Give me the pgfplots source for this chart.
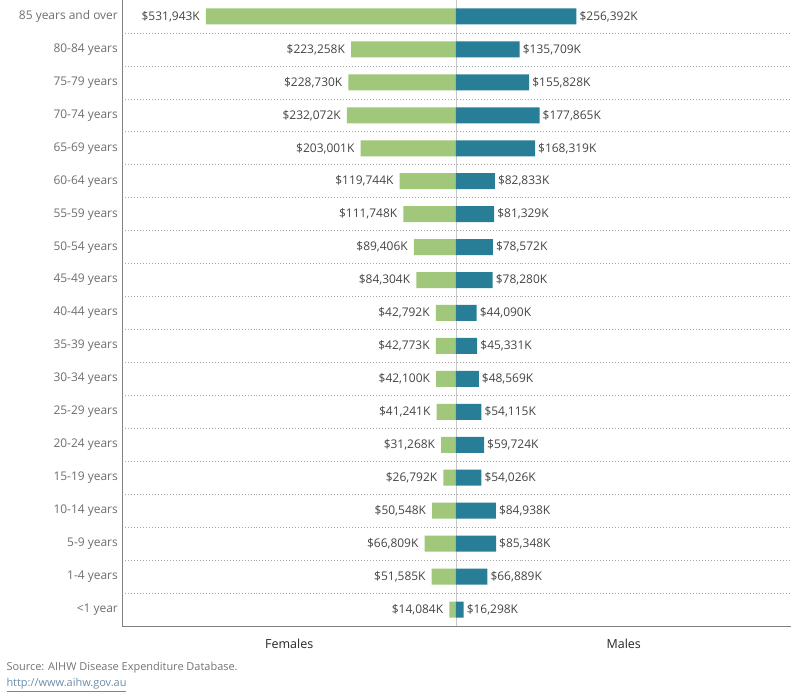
\documentclass[border=0pt]{standalone}
\usepackage{fontspec}
\setmainfont{Open Sans}
\usepackage{pgfplots}
\usepackage{pgfplotstable}
\pgfplotsset{compat=1.18}

\definecolor{femcol}{HTML}{A0C77A}
\definecolor{malecol}{HTML}{297E97}
\definecolor{labgray}{HTML}{6E6E6E}
\definecolor{valgray}{HTML}{444444}
\definecolor{linkcol}{HTML}{6A8CA8}

% Health expenditure by age group and sex ($ thousands); y = 0 is <1 year
\pgfplotstableread{
y  fem     male
0  14084   16298
1  51585   66889
2  66809   85348
3  50548   84938
4  26792   54026
5  31268   59724
6  41241   54115
7  42100   48569
8  42773   45331
9  42792   44090
10 84304   78280
11 89406   78572
12 111748  81329
13 119744  82833
14 203001  168319
15 232072  177865
16 228730  155828
17 223258  135709
18 531943  256392
}\expdata

\begin{document}
\begin{tikzpicture}
\useasboundingbox (-122bp,-74bp) rectangle (678bp,626bp);
\begin{axis}[
  at={(0,0)}, anchor=south west,
  scale only axis,
  width=669bp, height=626bp,
  xmin=-710600, xmax=713000,
  ymin=-0.5, ymax=18.5,
  scaled x ticks=false,
  xbar, bar width=16bp, bar shift=0pt,
  axis x line*=bottom, axis y line*=left,
  axis line style={draw=black!50, line width=0.8pt},
  x axis line style={-}, y axis line style={-},
  xtick={0}, xticklabels={},
  xmajorgrids, major grid style={draw=black!22, line width=0.7pt},
  ytick={0,...,18},
  yticklabels={<1 year,1-4 years,5-9 years,10-14 years,15-19 years,20-24 years,25-29 years,30-34 years,35-39 years,40-44 years,45-49 years,50-54 years,55-59 years,60-64 years,65-69 years,70-74 years,75-79 years,80-84 years,85 years and over},
  yticklabel style={font=\fontsize{12}{14}\selectfont, text=labgray, inner xsep=4pt},
  minor ytick={0.5,1.5,...,17.5},
  yminorgrids,
  minor grid style={draw=black!35, line width=0.6pt, dash pattern=on 0.6pt off 2.4pt},
  major tick length=0pt, minor tick length=0pt,
  nodes near coords={\$\pgfmathprintnumber{\pgfplotspointmeta}K},
  nodes near coords style={font=\fontsize{12}{14}\selectfont, text=valgray,
    /pgf/number format/fixed, /pgf/number format/precision=0,
    /pgf/number format/1000 sep={,}, /pgf/number format/assume math mode=true},
  clip=false,
]
\addplot[fill=femcol, draw=none, point meta=\thisrow{fem},
  every node near coord/.append style={anchor=east, inner xsep=6pt}]
  table[x expr=-\thisrow{fem}, y=y] {\expdata};
\addplot[fill=malecol, draw=none, point meta=\thisrow{male},
  every node near coord/.append style={anchor=west, inner xsep=3pt}]
  table[x=male, y=y] {\expdata};

\node[font=\fontsize{12.5}{14}\selectfont, text=black!85] at (rel axis cs:0.25,0) [yshift=-18bp] {Females};
\node[font=\fontsize{12.5}{14}\selectfont, text=black!85] at (rel axis cs:0.75,0) [yshift=-18bp] {Males};
\end{axis}
\node[anchor=west, font=\fontsize{11}{13}\selectfont, text=black!55] at (-119bp,-42bp) {Source: AIHW Disease Expenditure Database.};
\node[anchor=west, font=\fontsize{11}{13}\selectfont, text=linkcol] at (-119bp,-59bp) {\underline{http://www.aihw.gov.au}};
\end{tikzpicture}
\end{document}
